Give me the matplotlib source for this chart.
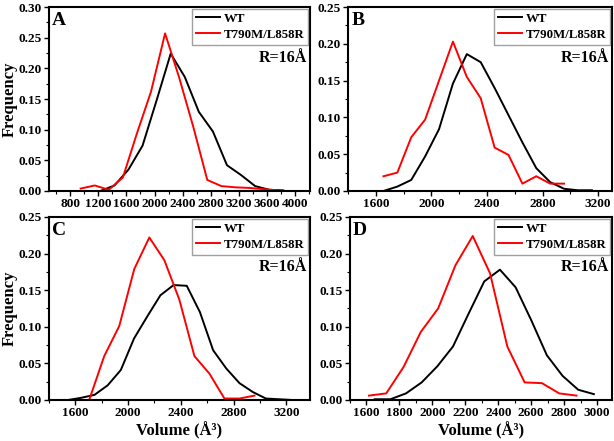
import matplotlib
matplotlib.use('Agg')
import matplotlib.pyplot as plt
from matplotlib.ticker import MultipleLocator, FormatStrFormatter

plt.rcParams['font.family'] = ['Liberation Serif', 'DejaVu Serif']
plt.rcParams['font.weight'] = 'bold'

# panel A
a_wt_x = [1230, 1430, 1630, 1830, 2030, 2230, 2430, 2630, 2830, 3030, 3230, 3430, 3630, 3830]
a_wt_y = [0.000, 0.009, 0.035, 0.074, 0.148, 0.224, 0.186, 0.129, 0.097, 0.042, 0.026, 0.008, 0.002, 0.001]
a_mut_x = [950, 1150, 1350, 1550, 1750, 1950, 2150, 2350, 2550, 2750, 2950, 3150, 3350, 3550, 3750]
a_mut_y = [0.004, 0.009, 0.002, 0.022, 0.094, 0.162, 0.257, 0.185, 0.105, 0.018, 0.008, 0.006, 0.005, 0.003, 0.001]

# panel B
b_wt_x = [1655, 1755, 1855, 1955, 2055, 2155, 2255, 2355, 2455, 2555, 2655, 2755, 2855, 2955, 3055, 3155]
b_wt_y = [0.000, 0.006, 0.015, 0.047, 0.084, 0.146, 0.186, 0.175, 0.140, 0.103, 0.066, 0.031, 0.012, 0.003, 0.001, 0.001]
b_mut_x = [1655, 1755, 1855, 1955, 2055, 2155, 2255, 2355, 2455, 2555, 2655, 2755, 2855, 2955]
b_mut_y = [0.020, 0.025, 0.073, 0.097, 0.150, 0.203, 0.155, 0.126, 0.059, 0.049, 0.010, 0.020, 0.010, 0.010]

# panel C
c_wt_x = [1545, 1645, 1745, 1845, 1945, 2045, 2145, 2245, 2345, 2445, 2545, 2645, 2745, 2845, 2945, 3045, 3145, 3245]
c_wt_y = [0.000, 0.003, 0.007, 0.020, 0.041, 0.084, 0.114, 0.143, 0.157, 0.156, 0.120, 0.068, 0.043, 0.023, 0.011, 0.002, 0.001, 0.000]
c_mut_x = [1705, 1819, 1933, 2047, 2161, 2275, 2389, 2503, 2617, 2731, 2845, 2959]
c_mut_y = [0.000, 0.060, 0.101, 0.179, 0.222, 0.191, 0.137, 0.060, 0.036, 0.002, 0.002, 0.006]

# panel D
d_wt_x = [1650, 1745, 1840, 1935, 2030, 2125, 2220, 2315, 2410, 2505, 2600, 2695, 2790, 2885, 2980]
d_wt_y = [0.001, 0.001, 0.009, 0.024, 0.046, 0.073, 0.118, 0.162, 0.178, 0.154, 0.109, 0.061, 0.033, 0.014, 0.008]
d_mut_x = [1615, 1720, 1825, 1930, 2035, 2140, 2245, 2350, 2455, 2560, 2665, 2770, 2875]
d_mut_y = [0.006, 0.009, 0.045, 0.093, 0.125, 0.184, 0.224, 0.173, 0.073, 0.024, 0.023, 0.009, 0.006]

letters = ['A', 'B', 'C', 'D']
series_names = ['WT', 'T790M/L858R']
radius_label = 'R=16Å'

fig = plt.figure(figsize=(6.14, 4.41), dpi=100)

def draw_panel(rect, letter, wt_x, wt_y, mut_x, mut_y, xlim, ymax, xmaj, xmin,
               ylabel=False, xlabel=False):
    ax = fig.add_axes(rect)
    ax.plot(wt_x, wt_y, color='black', lw=1.4, label=series_names[0])
    ax.plot(mut_x, mut_y, color='#ff0000', lw=1.4, label=series_names[1])
    ax.set_xlim(*xlim)
    ax.set_ylim(0, ymax)
    ax.xaxis.set_major_locator(MultipleLocator(xmaj))
    ax.xaxis.set_minor_locator(MultipleLocator(xmin))
    ax.yaxis.set_major_locator(MultipleLocator(0.05))
    ax.yaxis.set_minor_locator(MultipleLocator(0.025))
    ax.yaxis.set_major_formatter(FormatStrFormatter('%.2f'))
    ax.tick_params(which='major', direction='out', length=3.5, width=1.0,
                   labelsize=9.5, pad=1.5, top=False, right=False)
    ax.tick_params(which='minor', direction='out', length=2, width=0.8,
                   top=False, right=False)
    for lab in ax.get_xticklabels() + ax.get_yticklabels():
        lab.set_fontweight('bold')
    for sp in ax.spines.values():
        sp.set_linewidth(1.5)
    leg = ax.legend(loc='upper right', fontsize=9.3, frameon=True, fancybox=False,
                    handlelength=1.8, handletextpad=0.3, borderpad=0.3,
                    labelspacing=0.3, borderaxespad=0.15)
    leg.get_frame().set_edgecolor('#888888')
    leg.get_frame().set_linewidth(1.0)
    ax.text(0.012, 0.975, letter, transform=ax.transAxes, fontsize=14,
            fontweight='bold', ha='left', va='top')
    ax.text(0.99, 0.725, radius_label, transform=ax.transAxes, fontsize=11.5,
            fontweight='bold', ha='right', va='center')
    if ylabel:
        ax.set_ylabel('Frequency', fontsize=12, fontweight='bold', labelpad=0.5)
    if xlabel:
        ax.set_xlabel('Volume (Å³)', fontsize=12, fontweight='bold', labelpad=2)
    return ax

draw_panel([0.0798, 0.5669, 0.4251, 0.4172], letters[0], a_wt_x, a_wt_y, a_mut_x, a_mut_y,
           (500, 4210), 0.30, 400, 200, ylabel=True)
draw_panel([0.5668, 0.5669, 0.4300, 0.4172], letters[1], b_wt_x, b_wt_y, b_mut_x, b_mut_y,
           (1400, 3300), 0.25, 400, 200)
draw_panel([0.0798, 0.0930, 0.4251, 0.4150], letters[2], c_wt_x, c_wt_y, c_mut_x, c_mut_y,
           (1400, 3380), 0.25, 400, 200, ylabel=True, xlabel=True)
draw_panel([0.5700, 0.0930, 0.4267, 0.4150], letters[3], d_wt_x, d_wt_y, d_mut_x, d_mut_y,
           (1500, 3090), 0.25, 200, 100, xlabel=True)

fig.savefig('out.png', dpi=100)
